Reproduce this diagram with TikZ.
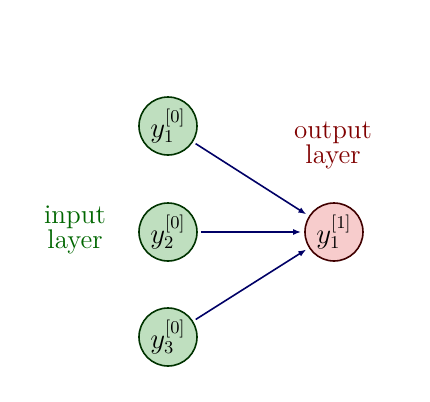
\documentclass[tikz,border=0pt]{standalone}
\usetikzlibrary{arrows.meta}
\begin{document}
\begin{tikzpicture}[x=0.5pt,y=-0.5pt,
  every node/.style={font=\fontsize{13.5}{12.5}\selectfont},
  inode/.style={circle,draw=green!20!black,fill=green!50!black!25,thick,minimum size=29pt,inner sep=0pt},
  onode/.style={circle,draw=red!25!black,fill=red!85!black!20,thick,minimum size=29pt,inner sep=0pt},
  conn/.style={-{Latex[length=4pt,width=3pt]},thick,draw=blue!40!black,shorten >=1.5pt,shorten <=1.5pt},
  lbl/.style={align=center}]
\useasboundingbox (0,0) rectangle (430,402);
\node[inode] (i1) at (168,126) {$y_1^{[0]}$};
\node[inode] (i2) at (168,232) {$y_2^{[0]}$};
\node[inode] (i3) at (168,337) {$y_3^{[0]}$};
\node[onode] (o1) at (334,232) {$y_1^{[1]}$};
\node[lbl,text=green!40!black] (il) at (75,230) {input\\layer};
\node[lbl,text=red!50!black] (ol) at (333,145) {output\\layer};
\draw[conn] (i1) -- (o1);
\draw[conn] (i2) -- (o1);
\draw[conn] (i3) -- (o1);
\end{tikzpicture}
\end{document}
